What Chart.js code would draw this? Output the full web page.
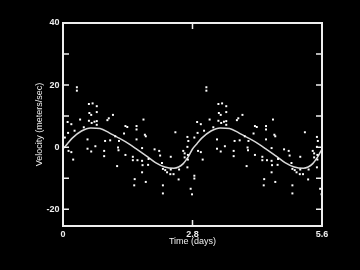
<!DOCTYPE html>
<html>
<head>
<meta charset="utf-8">
<script src="https://cdn.jsdelivr.net/npm/chart.js@4"></script>
<style>
  html, body { margin: 0; padding: 0; background: #000; }
  #rv { display: block; }
</style>
</head>
<body>
<canvas id="rv" width="360" height="270"></canvas>
<script>
// one orbital period, the picture shows it twice
const period = 2.8;

// measured velocities, phase in days
const phaseT = [0.30, 0.30, 0.56, 0.64, 0.73, 0.57, 0.61, 0.73, 0.10, 0.18,
  0.37, 0.56, 0.62, 0.68, 0.73, 0.73, 0.96, 0.99, 1.08, 1.35,
  1.32, 1.13, 0.04, 0.11, 0.25, 0.53, 0.91, 1.02, 1.21, 0.12,
  0.18, 0.22, 0.53, 0.61, 0.70, 0.89, 0.89, 1.19, 1.20, 1.35,
  1.17, 1.74, 1.59, 1.59, 1.77, 1.79, 2.43, 2.69, 1.39, 1.59,
  1.71, 1.51, 1.51, 1.61, 1.71, 1.98, 2.08, 2.10, 1.85, 1.84,
  1.71, 2.14, 2.16, 2.21, 2.25, 2.33, 2.33, 2.32, 2.39, 2.51,
  2.60, 2.63, 2.63, 2.70, 2.70, 2.69, 2.69, 2.71, 1.55, 1.54,
  1.79, 2.16, 2.16, 2.50, 2.76, 1.72, 2.79, 0.45];
const phaseV = [19.3, 18.2, 13.9, 14.1, 13.2, 11.0, 10.4, 11.3, 8.1, 7.4,
  8.9, 8.5, 7.8, 8.2, 8.4, 7.2, 8.7, 9.3, 10.4, 6.8,
  4.4, 3.5, 3.1, 4.6, 5.3, 2.5, 2.0, 2.2, 2.0, -1.2,
  -1.6, -4.0, -0.5, -1.4, 0.3, -1.2, -2.9, -0.1, -1.0, -2.5,
  -6.1, 8.9, 6.8, 5.7, 4.0, 3.5, 4.8, 3.3, 6.5, 2.5,
  -0.3, -3.1, -4.2, -4.2, -4.4, -0.7, -1.2, -2.7, -3.8, -5.7,
  -8.1, -5.1, -7.0, -7.4, -8.1, -3.1, -7.2, -8.7, -8.7, -7.2,
  -1.2, -2.0, -3.3, -2.5, -4.0, -6.5, 0.1, 2.0, -10.3, -12.3,
  -11.2, -12.3, -14.9, -10.4, -13.4, -5.8, -15.2, 6.4];

// points seen only just past the second cycle start
const extraT = [2.84, 2.84];
const extraV = [-9.2, -10.1];

// fitted orbit curve
const curveT = [0, 0.1, 0.2, 0.4, 0.6, 0.8, 1.0, 1.2, 1.4, 1.6, 1.8, 2.0, 2.2, 2.4, 2.5, 2.6, 2.7,
  2.8, 2.9, 3.0, 3.2, 3.4, 3.6, 3.8, 4.0, 4.2, 4.4, 4.6, 4.8, 5.0, 5.2, 5.3, 5.4, 5.5, 5.6];
const curveV = [-0.6, 1.2, 2.9, 5.2, 6.2, 6.0, 4.6, 3.0, 1.3, -0.7, -2.8, -5.0, -6.4, -6.8, -6.4, -5.3, -3.3,
  -0.6, 1.2, 2.9, 5.2, 6.2, 6.0, 4.6, 3.0, 1.3, -0.7, -2.8, -5.0, -6.4, -6.8, -6.4, -5.3, -3.3, -0.6];

const xLabels = [0, 2.8, 5.6];
const yLabels = [-20, 0, 20, 40];
const yMarks = [-20, -10, 0, 10, 20, 30];
const xMarks = [2.8];

const pts = [];
[0, period].forEach(off => {
  phaseT.forEach((t, i) => pts.push({ x: +(t + off).toFixed(2), y: phaseV[i] }));
});
extraT.forEach((t, i) => pts.push({ x: t, y: extraV[i] }));
const curve = curveT.map((t, i) => ({ x: t, y: curveV[i] }));

const ink = '#eeeeee';
const tickFont = { family: 'Liberation Sans, Arial, sans-serif', size: 9, weight: 'bold' };
const titleFont = { family: 'Liberation Sans, Arial, sans-serif', size: 9 };

// white box with inward tick marks
const frame = {
  id: 'frame',
  afterDatasetsDraw(chart) {
    const { ctx, chartArea: a, scales: { x, y } } = chart;
    ctx.save();
    ctx.strokeStyle = ink;
    ctx.lineWidth = 2;
    ctx.strokeRect(a.left, a.top, a.right - a.left, a.bottom - a.top);
    ctx.lineWidth = 1.5;
    ctx.beginPath();
    yMarks.forEach(v => {
      const p = y.getPixelForValue(v);
      ctx.moveTo(a.left, p); ctx.lineTo(a.left + 6, p);
      ctx.moveTo(a.right, p); ctx.lineTo(a.right - 6, p);
    });
    xMarks.forEach(v => {
      const p = x.getPixelForValue(v);
      ctx.moveTo(p, a.bottom); ctx.lineTo(p, a.bottom - 6);
      ctx.moveTo(p, a.top); ctx.lineTo(p, a.top + 6);
    });
    ctx.stroke();
    ctx.restore();
  }
};

new Chart(document.getElementById('rv'), {
  type: 'scatter',
  data: {
    datasets: [
      {
        data: pts,
        pointStyle: 'rect',
        pointRadius: 1.4,
        pointBorderWidth: 0,
        backgroundColor: '#ffffff',
        borderColor: '#ffffff'
      },
      {
        data: curve,
        showLine: true,
        pointRadius: 0,
        borderColor: '#d8d8d8',
        borderWidth: 1.5,
        cubicInterpolationMode: 'monotone'
      }
    ]
  },
  options: {
    responsive: false,
    animation: false,
    events: [],
    layout: { padding: { top: 23, right: 38, left: 0, bottom: 0 } },
    plugins: { legend: { display: false }, tooltip: { enabled: false } },
    scales: {
      x: {
        type: 'linear',
        min: 0,
        max: 5.6,
        afterFit: s => { s.height = 44; },
        afterBuildTicks: s => { s.ticks = xLabels.map(v => ({ value: v })); },
        grid: { display: false, drawTicks: false },
        border: { display: false },
        ticks: { color: ink, font: tickFont, padding: 3, maxRotation: 0, autoSkip: false,
          callback: v => String(v) },
        title: { display: true, text: 'Time (days)', color: ink, font: titleFont,
          padding: { top: 0, bottom: 23 } }
      },
      y: {
        type: 'linear',
        min: -25.4,
        max: 40,
        afterFit: s => { s.width = 63; },
        afterBuildTicks: s => { s.ticks = yLabels.map(v => ({ value: v })); },
        grid: { display: false, drawTicks: false },
        border: { display: false },
        ticks: { color: ink, font: tickFont, padding: 3.5, callback: v => String(v) },
        title: { display: true, text: 'Velocity (meters/sec)', color: ink, font: titleFont,
          padding: { top: 34.6, bottom: 0 } }
      }
    }
  },
  plugins: [frame]
});
</script>
</body>
</html>
